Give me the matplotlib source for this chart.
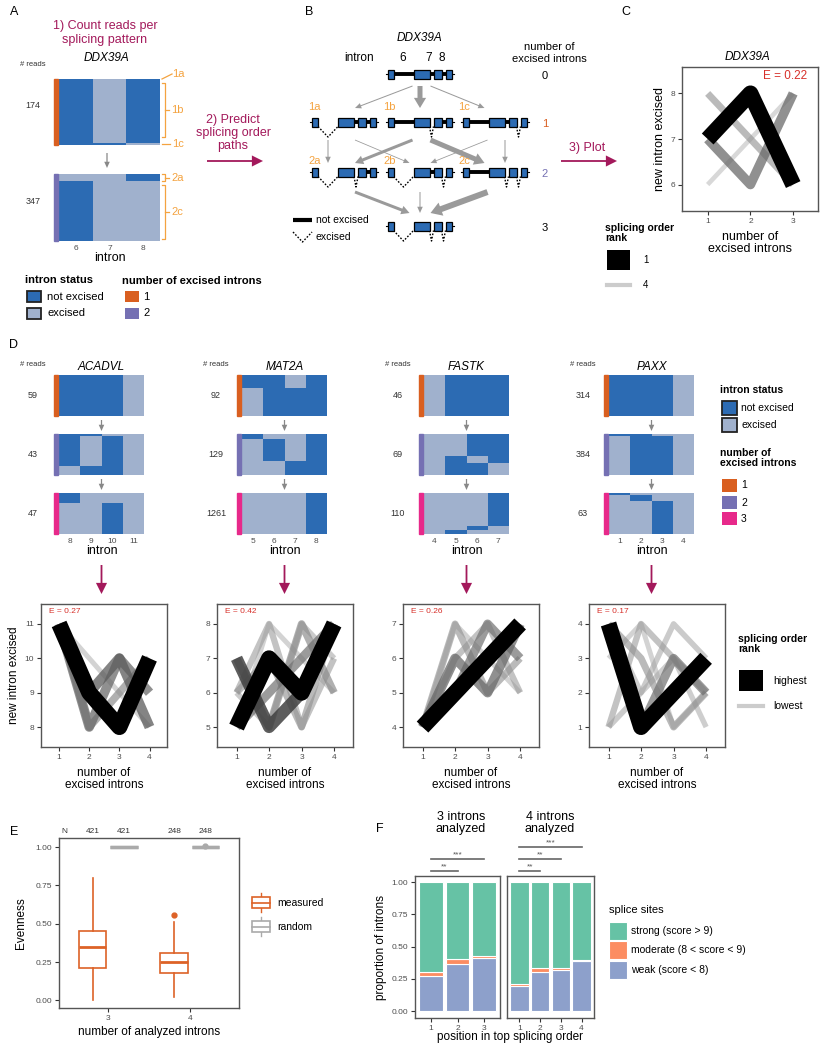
import matplotlib
matplotlib.use("Agg")
import matplotlib.pyplot as plt
from matplotlib.patches import Rectangle, FancyArrowPatch, ArrowStyle

plt.rcParams["font.family"] = ["Liberation Sans", "DejaVu Sans"]

W, H = 826, 1050
BLUE = "#2c6bb3"; LIGHT = "#a0b1cd"
LVL = {1: "#d95f20", 2: "#7570b3", 3: "#e7298a"}
BRK = "#f4a340"; MAROON = "#a3195b"; AGRAY = "#9a9a9a"; ERED = "#d7302a"
MEAS = "#dd6227"; RAND = "#aaaaaa"; TICK = "#4d4d4d"; SPINE = "#555555"
SS_COL = {"strong": "#66c2a5", "moderate": "#fc8d62", "weak": "#8da0cb"}

# ---- data -------------------------------------------------------------------
# A: DDX39A reads per splicing pattern (introns 6-8)
dd_introns = [6, 7, 8]
dd_lvl1_counts = [1, 168, 5]            # 1a, 1b, 1c
dd_lvl1_excised = [[6], [7], [8]]
dd_lvl2_counts = [36, 311]              # 2a, 2c
dd_lvl2_excised = [[6, 7], [7, 8]]

# B: isoforms and predicted path weights
b_isoforms = {"0": [], "1a": [6], "1b": [7], "1c": [8],
              "2a": [6, 7], "2b": [6, 8], "2c": [7, 8], "3": [6, 7, 8]}
b_edges = [("0", "1a"), ("0", "1b"), ("0", "1c"), ("1a", "2a"), ("1a", "2b"),
           ("1b", "2a"), ("1b", "2c"), ("1c", "2b"), ("1c", "2c"),
           ("2a", "3"), ("2b", "3"), ("2c", "3")]
b_weights = [1, 5, 1, 1, 0.8, 3, 5, 0.8, 1, 3, 1, 6]

# C: DDX39A splicing order paths
dd_paths = [[7, 8, 6], [7, 6, 8], [8, 7, 6], [6, 7, 8]]
dd_path_w = [1.0, 0.5, 0.3, 0.12]
dd_E = 0.22

# D: four genes
d_genes = ["ACADVL", "MAT2A", "FASTK", "PAXX"]
d_introns = [[8, 9, 10, 11], [5, 6, 7, 8], [4, 5, 6, 7], [1, 2, 3, 4]]
d_reads = [[59, 43, 47], [92, 129, 1261], [46, 69, 110], [314, 384, 63]]
d_counts = [
    [[59], [2, 32, 9], [12, 35]],
    [[30, 62], [15, 70, 44], [1261]],
    [[46], [37, 12, 20], [88, 11, 11]],
    [[314], [16, 368], [3, 9, 51]],
]
d_excised = [
    [[[11]], [[10, 11], [9, 11], [8, 11]], [[9, 10, 11], [8, 9, 11]]],
    [[[7], [5]], [[6, 7], [5, 7], [5, 6]], [[5, 6, 7]]],
    [[[4]], [[4, 5], [4, 6], [4, 7]], [[4, 5, 6], [4, 5, 7], [4, 6, 7]]],
    [[[4]], [[3, 4], [1, 4]], [[2, 3, 4], [1, 3, 4], [1, 2, 4]]],
]
d_paths = [
    [[11, 9, 8, 10], [11, 9, 10, 8], [11, 8, 10, 9], [11, 8, 9, 10], [11, 10, 9, 8]],
    [[5, 7, 6, 8], [7, 5, 6, 8], [5, 6, 7, 8], [7, 5, 8, 6], [6, 7, 5, 8],
     [6, 8, 5, 7], [6, 5, 8, 7], [5, 8, 7, 6]],
    [[4, 5, 6, 7], [4, 6, 5, 7], [4, 5, 7, 6], [4, 7, 5, 6], [4, 6, 7, 5], [4, 7, 6, 5]],
    [[4, 1, 2, 3], [4, 1, 3, 2], [4, 3, 1, 2], [1, 4, 3, 2], [1, 2, 4, 3],
     [4, 2, 3, 1], [3, 4, 1, 2]],
]
d_path_w = [
    [1.0, 0.55, 0.5, 0.35, 0.15],
    [1.0, 0.7, 0.45, 0.35, 0.3, 0.25, 0.2, 0.15],
    [1.0, 0.5, 0.45, 0.3, 0.25, 0.15],
    [1.0, 0.45, 0.3, 0.25, 0.2, 0.18, 0.15],
]
d_E = [0.27, 0.42, 0.26, 0.17]

# E: evenness
e_groups = [3, 4]
e_n = [421, 248]
meas_whislo = [0.00, 0.02]
meas_q1 = [0.21, 0.18]
meas_med = [0.35, 0.25]
meas_q3 = [0.45, 0.31]
meas_whishi = [0.80, 0.51]
meas_fliers = [[], [0.56]]
rand_value = [1.0, 1.0]
rand_fliers = [[], [1.01]]

# F: splice-site strength by position
f_n_introns = [3, 4]
f_weak = [[0.27, 0.367, 0.41], [0.196, 0.30, 0.32, 0.385]]
f_moderate = [[0.03, 0.039, 0.02], [0.016, 0.033, 0.013, 0.008]]
f_sig = [[(1, 2, "**"), (1, 3, "***")],
         [(1, 2, "**"), (1, 3, "**"), (1, 4, "***")]]

# ---- helpers ----------------------------------------------------------------
fig = plt.figure(figsize=(W / 100, H / 100), dpi=100)
ov = fig.add_axes([0, 0, 1, 1], zorder=0)
ov.set_xlim(0, W); ov.set_ylim(H, 0); ov.axis("off")


def axpx(x0, y0, x1, y1):
    return fig.add_axes([x0 / W, 1 - y1 / H, (x1 - x0) / W, (y1 - y0) / H])


def txt(x, y, s, size=8, **kw):
    kw.setdefault("ha", "center"); kw.setdefault("va", "center")
    ov.text(x, y, s, fontsize=size, **kw)


def arrow(x0, y0, x1, y1, color, tail, hw, hl):
    ov.add_patch(FancyArrowPatch((x0, y0), (x1, y1), mutation_scale=1,
                 arrowstyle=ArrowStyle("simple", head_length=hl, head_width=hw, tail_width=tail),
                 color=color, lw=0, shrinkA=0, shrinkB=0))


def style_ticks(ax, size=6):
    ax.tick_params(labelsize=size, labelcolor=TICK, length=3, width=0.8, color="#333333", pad=2)
    for s in ax.spines.values():
        s.set_color(SPINE); s.set_linewidth(1)


def heat(box, introns, counts, excised, level, xticks=False):
    x0, y0, x1, y1 = box
    ax = axpx(x0, y0, x1, y1)
    bottom = 0
    for n, ex in zip(counts, excised):
        cols = [LIGHT if i in ex else BLUE for i in introns]
        ax.bar(range(len(introns)), [n] * len(introns), bottom=bottom, width=1,
               color=cols, linewidth=0)
        bottom += n
    ax.set_xlim(-0.5, len(introns) - 0.5); ax.set_ylim(bottom, 0)
    for s in ax.spines.values():
        s.set_visible(False)
    ax.set_yticks([])
    if xticks:
        ax.set_xticks(range(len(introns)), [str(i) for i in introns])
        ax.tick_params(axis="x", length=0, labelsize=6, labelcolor=TICK, pad=3)
        ax.set_xlabel("intron", fontsize=9, labelpad=0)
    else:
        ax.set_xticks([])
    w = x1 - x0
    ax.add_patch(Rectangle((-5 / w, 0), 4 / w, 1, transform=ax.transAxes,
                           color=LVL[level], clip_on=False))
    return ax


def order_plot(box, introns, paths, weights, E, e_size, e_right, ylabel, lab_size):
    ax = axpx(*box)
    for p, w in sorted(zip(paths, weights), key=lambda t: t[1]):
        g = 0.8 * (1 - w)
        ax.plot(range(1, len(p) + 1), p, color=(g, g, g), alpha=0.45 + 0.55 * w,
                lw=2.2 + 9.3 * w, solid_joinstyle="round", solid_capstyle="butt")
    ax.set_xlim(0.4, len(introns) + 0.58)
    ax.set_ylim(min(introns) - 0.58, max(introns) + 0.58)
    ax.set_xticks(range(1, len(introns) + 1)); ax.set_yticks(introns)
    style_ticks(ax)
    ax.set_xlabel("number of\nexcised introns", fontsize=lab_size, labelpad=4, linespacing=1.05)
    if ylabel:
        ax.set_ylabel("new intron excised", fontsize=lab_size, labelpad=3)
    if e_right:
        ax.text(0.92, 0.94, f"E = {E:.2f}", transform=ax.transAxes, ha="right",
                va="center", color=ERED, fontsize=e_size)
    else:
        ax.text(0.06, 0.95, f"E = {E:.2f}", transform=ax.transAxes, ha="left",
                va="center", color=ERED, fontsize=e_size)
    return ax


# ---- panel letters ----------------------------------------------------------
for lab, x, y in [("A", 14, 12), ("B", 309, 12), ("C", 626, 12), ("D", 14, 345),
                  ("E", 14, 832), ("F", 380, 829)]:
    txt(x, y, lab, size=9)

# ---- A ----------------------------------------------------------------------
txt(105, 33, "1) Count reads per\nsplicing pattern", size=9, color=MAROON, linespacing=1.15)
txt(107, 58, "DDX39A", size=8.5, style="italic")
txt(33, 64, "# reads", size=5.5, color="#333333")
heat((59, 79, 160, 145), dd_introns, dd_lvl1_counts, dd_lvl1_excised, 1)
heat((59, 174, 160, 241), dd_introns, dd_lvl2_counts, dd_lvl2_excised, 2, xticks=True)
txt(33, 105, str(sum(dd_lvl1_counts)), size=6.5, color="#333333")
txt(33, 202, str(sum(dd_lvl2_counts)), size=6.5, color="#333333")
arrow(107, 153, 107, 168, "#888888", 0.9, 4, 4.5)

# brackets
bk = dict(color=BRK, lw=0.9)
ov.plot([162, 172], [79, 74], **bk); txt(172, 74, "1a", size=8, color=BRK, ha="left")
ov.plot([162, 165, 165, 162], [83, 83, 137, 137], **bk); ov.plot([165, 169], [110, 110], **bk)
txt(171, 110, "1b", size=8, color=BRK, ha="left")
ov.plot([162, 170], [144, 144], **bk); txt(172, 144, "1c", size=8, color=BRK, ha="left")
ov.plot([162, 165, 165, 162], [174, 174, 181, 181], **bk); ov.plot([165, 169], [177.5, 177.5], **bk)
txt(171, 178, "2a", size=8, color=BRK, ha="left")
ov.plot([162, 165, 165, 162], [185, 185, 239, 239], **bk); ov.plot([165, 169], [212, 212], **bk)
txt(171, 212, "2c", size=8, color=BRK, ha="left")

# legends A
txt(25, 280, "intron status", size=8, weight="bold", ha="left")
for yy, c, s in [(291, BLUE, "not excised"), (308, LIGHT, "excised")]:
    ov.add_patch(Rectangle((27, yy), 14, 11, fc=c, ec="#222222", lw=1.3))
    txt(47, yy + 5.5, s, size=8, ha="left")
txt(122, 281, "number of excised introns", size=8, weight="bold", ha="left")
for yy, lv in [(291, 1), (308, 2)]:
    ov.add_patch(Rectangle((125, yy), 14, 11, fc=LVL[lv], ec="none"))
    txt(143, yy + 5.5, str(lv), size=8, ha="left")

txt(233, 133, "2) Predict\nsplicing order\npaths", size=9, color=MAROON, linespacing=1.1)
arrow(207, 161, 263, 161, MAROON, 1.3, 8, 8)

# ---- B ----------------------------------------------------------------------
EXON_PX = [6, 16, 8, 6]
INTRON_PX = [20, 4, 4]
COL_X = {"a": 344, "b": 419.5, "c": 494.5}
LEVEL_Y = [74, 122, 172, 226]
LABEL_DY = [0, -15, -11, 0]
STRAIGHT_OFF = {"a": -16, "b": 0.5, "c": 10.5}
ARROW_Y = [(86, 108), (140, 163), (192, 213)]


def iso_pos(key):
    col = key[1] if len(key) > 1 else "b"
    return col, COL_X[col], LEVEL_Y[int(key[0])]


def gene(cx, y, excised):
    x = cx - (sum(EXON_PX) + sum(INTRON_PX)) / 2
    ov.plot([x - 2, x], [y, y], color="k", lw=0.8)
    for k, el in enumerate(EXON_PX):
        ov.add_patch(Rectangle((x, y - 4.5), el, 9, fc=BLUE, ec="k", lw=0.9, zorder=3))
        x += el
        if k < len(INTRON_PX):
            il = INTRON_PX[k]
            if dd_introns[k] in excised:
                ov.plot([x, x + il / 2, x + il], [y + 4.5, y + 15, y + 4.5], color="k",
                        lw=1, ls=(0, (1.2, 1.2)))
            else:
                ov.plot([x, x + il], [y, y], color="k", lw=2.8, solid_capstyle="butt")
            x += il
    ov.plot([x, x + 2], [y, y], color="k", lw=0.8)


for key, ex in b_isoforms.items():
    col, cx, cy = iso_pos(key)
    gene(cx, cy, ex)
    if len(key) > 1:
        txt(cx - 36, cy + LABEL_DY[int(key[0])], key, size=8, color=BRK, ha="left")

for (s, t), w in zip(b_edges, b_weights):
    cs, xs, ys = iso_pos(s)
    ct, xt, yt = iso_pos(t)
    y0, y1 = ARROW_Y[int(s[0])]
    if xs == xt:
        x0 = x1 = xs + STRAIGHT_OFF[cs]
    elif xt < xs:
        x0, x1 = xs - 7, xt + 11
    else:
        x0, x1 = xs + 11, xt - 10
    arrow(x0, y0, x1, y1, AGRAY, 0.72 * w, 2.8 + 1.2 * w, 3.8 + 0.7 * w)

txt(420, 38, "DDX39A", size=8.5, style="italic")
txt(359, 58, "intron", size=8.5)
for xx, s in [(403, "6"), (429, "7"), (442, "8")]:
    txt(xx, 58, s, size=8.5)
txt(549, 53, "number of\nexcised introns", size=8, linespacing=1.15)
for lv, c in zip(range(4), ["k", LVL[1], LVL[2], "k"]):
    txt(545, LEVEL_Y[lv] + 2, str(lv), size=8, color=c)
ov.plot([293, 312], [220, 220], color="k", lw=3, solid_capstyle="butt")
txt(316, 220, "not excised", size=7.5, ha="left")
ov.plot([293, 302.5, 312], [232, 242, 232], color="k", lw=1, ls=(0, (1.2, 1.2)))
txt(316, 237, "excised", size=7.5, ha="left")

# ---- C ----------------------------------------------------------------------
txt(587, 148, "3) Plot", size=9, color=MAROON)
arrow(561, 161, 617, 161, MAROON, 1.3, 8, 8)
txt(748, 57, "DDX39A", size=8.5, style="italic")
order_plot((682, 67, 818, 211), dd_introns, dd_paths, dd_path_w, dd_E,
           e_size=8.5, e_right=True, ylabel=True, lab_size=9)
txt(605, 233, "splicing order\nrank", size=7.5, weight="bold", ha="left", linespacing=1.1)
ov.add_patch(Rectangle((607, 250), 23, 20, fc="black", ec="none"))
txt(643, 260, "1", size=7, ha="left")
ov.plot([607, 630], [285, 285], color="#cccccc", lw=3)
txt(643, 285, "4", size=7, ha="left")

# ---- D ----------------------------------------------------------------------
HEAT_X = [59, 242, 424, 609]
HEAT_ROWS = [(375, 416), (434, 475), (493, 534)]
PLOT_X = [(41, 167), (217, 353), (403, 539), (589, 725)]
for g, name in enumerate(d_genes):
    hx = HEAT_X[g]; cx = hx + 42.5
    txt(hx - 26, 365, "# reads", size=5.5, color="#333333")
    txt(cx, 367, name, size=8.5, style="italic")
    for lv in range(3):
        r0, r1 = HEAT_ROWS[lv]
        heat((hx, r0, hx + 85, r1), d_introns[g], d_counts[g][lv], d_excised[g][lv],
             lv + 1, xticks=(lv == 2))
        txt(hx - 26, (r0 + r1) / 2, str(d_reads[g][lv]), size=6.5, color="#333333")
        if lv < 2:
            arrow(cx, r1 + 4, cx, HEAT_ROWS[lv + 1][0] - 3, "#888888", 0.9, 4, 4.5)
    arrow(cx, 565, cx, 594, MAROON, 1.3, 8, 8)
    px0, px1 = PLOT_X[g]
    order_plot((px0, 604, px1, 747), d_introns[g], d_paths[g], d_path_w[g], d_E[g],
               e_size=6, e_right=False, ylabel=(g == 0), lab_size=8.5)

txt(720, 390, "intron status", size=7.5, weight="bold", ha="left")
for yy, c, s in [(401, BLUE, "not excised"), (418, LIGHT, "excised")]:
    ov.add_patch(Rectangle((722, yy), 15, 14, fc=c, ec="#222222", lw=1.3))
    txt(741, yy + 7, s, size=7.5, ha="left")
txt(720, 458, "number of\nexcised introns", size=7.5, weight="bold", ha="left", linespacing=1.1)
for yy, lv in [(479, 1), (496, 2), (512, 3)]:
    ov.add_patch(Rectangle((722, yy), 15, 13, fc=LVL[lv], ec="none"))
    txt(741, yy + 6.5, str(lv), size=7.5, ha="left")
txt(738, 644, "splicing order\nrank", size=7.5, weight="bold", ha="left", linespacing=1.1)
ov.add_patch(Rectangle((739, 670), 24, 21, fc="black", ec="none"))
txt(773, 681, "highest", size=7.5, ha="left")
ov.plot([739, 763], [706, 706], color="#cccccc", lw=3)
txt(773, 706, "lowest", size=7.5, ha="left")

# ---- E ----------------------------------------------------------------------
ax = axpx(59, 838, 239, 1008)
m_stats = [dict(med=md, q1=a, q3=b, whislo=lo, whishi=hi, fliers=f) for md, a, b, lo, hi, f in
           zip(meas_med, meas_q1, meas_q3, meas_whislo, meas_whishi, meas_fliers)]
r_stats = [dict(med=v, q1=v, q3=v, whislo=v, whishi=v, fliers=f) for v, f in zip(rand_value, rand_fliers)]
for stats, off, col, lw in [(m_stats, -0.19, MEAS, 1.2), (r_stats, 0.19, RAND, 2.4)]:
    ax.bxp(stats, positions=[gr + off for gr in e_groups], widths=0.34, showcaps=False,
           patch_artist=True, manage_ticks=False,
           boxprops=dict(facecolor="white", edgecolor=col, lw=lw),
           medianprops=dict(color=col, lw=2 if lw < 2 else lw),
           whiskerprops=dict(color=col, lw=1.2),
           flierprops=dict(marker="o", markerfacecolor=col, markeredgecolor=col, markersize=3.5))
ax.set_xlim(2.4, 4.6); ax.set_ylim(-0.05, 1.06)
ax.set_xticks(e_groups); ax.set_yticks([0, 0.25, 0.5, 0.75, 1.0], ["0.00", "0.25", "0.50", "0.75", "1.00"])
style_ticks(ax)
ax.set_xlabel("number of analyzed introns", fontsize=8.5, labelpad=3)
ax.set_ylabel("Evenness", fontsize=8.5, labelpad=6)
ax.text(2.47, 1.10, "N", fontsize=6, ha="center", va="center", color="#333333")
for gr, n in zip(e_groups, e_n):
    for off in (-0.19, 0.19):
        ax.text(gr + off, 1.10, str(n), fontsize=6, ha="center", va="center", color="#333333")
for yy, col, s in [(897, MEAS, "measured"), (921, RAND, "random")]:
    ov.plot([261, 261], [yy - 4, yy + 15], color=col, lw=1)
    ov.add_patch(Rectangle((252, yy), 18, 11, fc="white", ec=col, lw=1.2, zorder=3))
    ov.plot([252, 270], [yy + 5.5, yy + 5.5], color=col, lw=1.2, zorder=4)
    txt(277, yy + 6, s, size=7.5, ha="left")

# ---- F ----------------------------------------------------------------------
F_BOX = [(415, 876, 500, 1018), (507, 876, 594, 1018)]
F_TITLE_X = [461, 550]
SIG_Y = [1.085, 1.18, 1.275]
for k, (n, weak, mod) in enumerate(zip(f_n_introns, f_weak, f_moderate)):
    ax = axpx(*F_BOX[k])
    x = list(range(1, n + 1))
    strong = [1 - a - b for a, b in zip(weak, mod)]
    wm = [a + b for a, b in zip(weak, mod)]
    kw = dict(width=0.9, edgecolor="white", linewidth=0.8)
    ax.bar(x, weak, color=SS_COL["weak"], **kw)
    ax.bar(x, mod, bottom=weak, color=SS_COL["moderate"], **kw)
    ax.bar(x, strong, bottom=wm, color=SS_COL["strong"], **kw)
    ax.set_xlim(0.4, n + 0.6); ax.set_ylim(-0.054, 1.047)
    ax.set_xticks(x)
    if k == 0:
        ax.set_yticks([0, 0.25, 0.5, 0.75, 1.0], ["0.00", "0.25", "0.50", "0.75", "1.00"])
        ax.set_ylabel("proportion of introns", fontsize=8.5, labelpad=3)
    else:
        ax.set_yticks([])
    style_ticks(ax)
    for j, (a, b, s) in enumerate(f_sig[k]):
        ax.plot([a, b], [SIG_Y[j], SIG_Y[j]], color="#666666", lw=1.2, clip_on=False)
        ax.text((a + b) / 2, SIG_Y[j] + 0.005, s, fontsize=6, color="#555555",
                ha="center", va="bottom", clip_on=False)
    txt(F_TITLE_X[k], 823, f"{n} introns\nanalyzed", size=9, linespacing=1.1)
txt(510, 1037, "position in top splicing order", size=8.5)
txt(609, 910, "splice sites", size=8, ha="left")
for yy, key, s in [(922, "strong", "strong (score > 9)"),
                   (941, "moderate", "moderate (8 < score < 9)"),
                   (961, "weak", "weak (score < 8)")]:
    ov.add_patch(Rectangle((609, yy), 18, 17.5, fc=SS_COL[key], ec="white", lw=0.8))
    txt(631, yy + 9, s, size=7.5, ha="left")

fig.savefig("out.png", dpi=100)
